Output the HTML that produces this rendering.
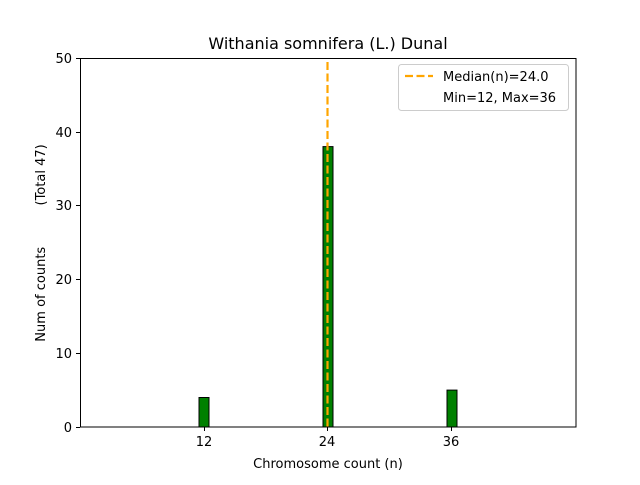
<!DOCTYPE html>
<html><head><style>body{margin:0;background:#fff}svg text{font-family:"DejaVu Sans","Liberation Sans",sans-serif}</style></head><body>
<svg width="640" height="480" xmlns="http://www.w3.org/2000/svg">
<rect width="640" height="480" fill="#fff"/>
<line x1="110" y1="427" x2="488" y2="427" stroke="#000" stroke-width="1"/>
<rect x="199" y="397.5" width="10" height="29.5" fill="green" stroke="#000" stroke-width="1"/>
<rect x="323" y="146.6" width="10" height="280.4" fill="green" stroke="#000" stroke-width="1"/>
<rect x="447" y="390.1" width="10" height="36.9" fill="green" stroke="#000" stroke-width="1"/>
<line x1="327.5" y1="62" x2="327.5" y2="427" stroke="orange" stroke-width="2.2" stroke-dasharray="8,3.5"/>
<rect x="80.5" y="58.5" width="495.5" height="368.5" fill="none" stroke="#000" stroke-width="1"/>
<g stroke="#000" stroke-width="1">
<line x1="204.5" y1="427" x2="204.5" y2="431"/><line x1="327.5" y1="427" x2="327.5" y2="431"/><line x1="451.5" y1="427" x2="451.5" y2="431"/>
<line x1="76" y1="427.5" x2="80" y2="427.5"/><line x1="76" y1="353.5" x2="80" y2="353.5"/><line x1="76" y1="279.5" x2="80" y2="279.5"/><line x1="76" y1="205.5" x2="80" y2="205.5"/><line x1="76" y1="132.5" x2="80" y2="132.5"/><line x1="76" y1="58.5" x2="80" y2="58.5"/>
</g>
<g font-size="13" fill="#000">
<text x="204" y="446" text-anchor="middle">12</text><text x="327" y="446" text-anchor="middle">24</text><text x="451" y="446" text-anchor="middle">36</text>
<g text-anchor="end"><text x="72" y="432">0</text><text x="72" y="358">10</text><text x="72" y="284">20</text><text x="72" y="210">30</text><text x="72" y="137">40</text><text x="72" y="63">50</text></g>
<text x="328" y="468" text-anchor="middle">Chromosome count (n)</text>
<text transform="translate(45,243) rotate(-90)" text-anchor="middle" style="white-space:pre" xml:space="preserve">Num of counts          (Total 47)</text>
<text x="328" y="49" text-anchor="middle" font-size="16">Withania somnifera (L.) Dunal</text>
</g>
<rect x="398.5" y="64.5" width="170" height="46" rx="3" fill="#fff" stroke="#ccc"/>
<line x1="405" y1="76" x2="433" y2="76" stroke="orange" stroke-width="2.2" stroke-dasharray="8,3.5"/>
<text x="443" y="81" font-size="13">Median(n)=24.0</text>
<text x="443" y="102" font-size="13">Min=12, Max=36</text>
</svg></body></html>
